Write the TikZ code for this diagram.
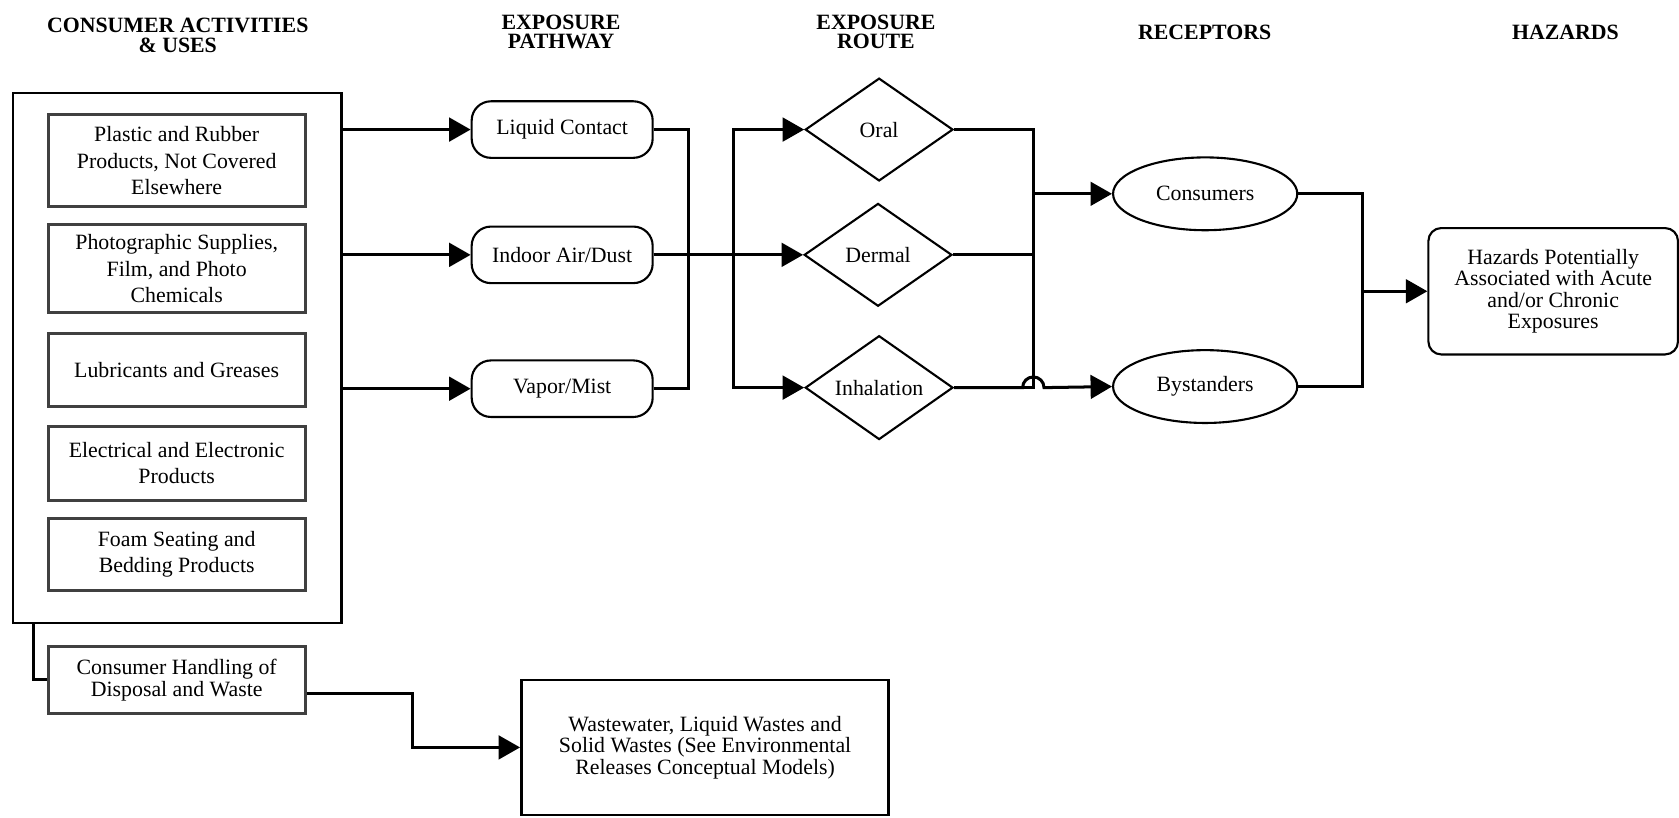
\documentclass[tikz,border=0pt]{standalone}
\usepackage{fontspec}
\setmainfont{Liberation Serif}
\usetikzlibrary{arrows.meta,shapes.geometric}

\tikzset{
  head/.style={font=\fontsize{14.5}{12.8}\selectfont\bfseries, align=center},
  usebox/.style={draw=black!75, line width=2pt, minimum width=6cm, align=center, inner sep=2pt},
  pill/.style={draw, line width=1.4pt, rounded corners=0.45cm, minimum width=4.225cm, minimum height=1.32cm},
  route/.style={draw, diamond, line width=1.4pt, minimum width=3.45cm, minimum height=2.4cm, inner sep=0pt},
  receptor/.style={draw, ellipse, line width=1.4pt, minimum width=4.3cm, minimum height=1.7cm},
  tight/.style={font=\fontsize{14.5}{14.2}\selectfont, align=center},
  flow/.style={line width=2pt},
  arr/.style={flow, -{Triangle[length=0.5cm, width=0.55cm]}},
}

\begin{document}
\begin{tikzpicture}[x=0.025cm, y=-0.025cm, font=\fontsize{14.5}{17.7}\selectfont]
  \useasboundingbox (0,0) rectangle (1568,763);

  % column headings
  \node[head] (hcons) at (166,33) {CONSUMER ACTIVITIES\\\& USES};
  \node[head] (hpath) at (524,30) {EXPOSURE\\PATHWAY};
  \node[head] (hroute) at (818,30) {EXPOSURE\\ROUTE};
  \node[head] (hrec) at (1125,30) {RECEPTORS};
  \node[head] (hhaz) at (1462,30) {HAZARDS};

  % consumer activities and uses
  \node[draw, line width=1.6pt, minimum width=7.675cm, minimum height=12.375cm] (uses) at (165.5,334.5) {};
  \node[usebox, minimum height=2.15cm] (plastic) at (165,150) {Plastic and Rubber\\Products, Not Covered\\Elsewhere};
  \node[usebox, minimum height=2.05cm] (photo) at (165,251) {Photographic Supplies,\\Film, and Photo\\Chemicals};
  \node[usebox, minimum height=1.725cm] (lubric) at (165,345.5) {Lubricants and Greases};
  \node[usebox, minimum height=1.725cm] (elec) at (165,432.5) {Electrical and Electronic\\Products};
  \node[usebox, minimum height=1.675cm] (foam) at (165,517.5) {Foam Seating and\\Bedding Products};
  \node[usebox, tight, minimum height=1.55cm] (handling) at (165,635) {Consumer Handling of\\Disposal and Waste};
  \node[draw, line width=1.8pt, tight, minimum width=8.575cm, minimum height=3.15cm] (waste) at (658.5,698)
    {Wastewater, Liquid Wastes and\\Solid Wastes (See Environmental\\Releases Conceptual Models)};

  % exposure pathways
  \node[pill] (liquid) at (525,121) {Liquid Contact};
  \node[pill] (indoor) at (525,238) {Indoor Air/Dust};
  \node[pill] (vapor) at (525,363) {Vapor/Mist};

  % exposure routes
  \node[route] (oral) at (821,121) {Oral};
  \node[route] (dermal) at (820,238) {Dermal};
  \node[route] (inhal) at (821,362) {Inhalation};

  % receptors and hazards
  \node[receptor] (consumers) at (1125.5,181) {Consumers};
  \node[receptor] (bystand) at (1125.5,361) {Bystanders};
  \node[draw, line width=1.4pt, rounded corners=0.3cm, tight, minimum width=5.825cm, minimum height=2.95cm] (hazards) at (1450.5,272)
    {Hazards Potentially\\Associated with Acute\\and/or Chronic\\Exposures};

  % bus lines
  \coordinate (b1) at (643,0);
  \coordinate (b2) at (685,0);
  \coordinate (b3) at (965,0);
  \coordinate (b4) at (1272,0);
  \coordinate (bw) at (385,0);

  % uses -> pathways
  \draw[arr] (uses.east |- liquid.west) -- (liquid.west);
  \draw[arr] (uses.east |- indoor.west) -- (indoor.west);
  \draw[arr] (uses.east |- vapor.west) -- (vapor.west);
  \draw[flow] ([xshift=0.5cm]uses.south west) |- (handling.west);
  \draw[arr] ([yshift=-9pt]handling.east) -| (bw |- waste.west) -- (waste.west);

  % pathways -> routes
  \draw[flow] (liquid.east) -| (b1 |- dermal.west);
  \draw[flow] (vapor.east) -| (b1 |- dermal.west);
  \draw[arr] (indoor.east) -- (dermal.west);
  \draw[arr] (indoor.east) -| (b2 |- oral.west) -- (oral.west);
  \draw[arr] (indoor.east) -| (b2 |- inhal.west) -- (inhal.west);

  % routes -> receptors
  \draw[flow] (oral.east) -| (b3 |- consumers.west);
  \draw[flow] (dermal.east) -| (b3 |- consumers.west);
  \draw[flow] (inhal.east) -| (b3 |- consumers.west);
  \draw[arr] (b3 |- consumers.west) -- (consumers.west);
  \draw[arr] (inhal.east) -- ([xshift=-0.25cm]b3 |- inhal.east)
    arc[start angle=180, end angle=0, radius=0.25cm] -- (bystand.west);

  % receptors -> hazards
  \draw[flow] (consumers.east) -| (b4 |- hazards.west);
  \draw[flow] (bystand.east) -| (b4 |- hazards.west);
  \draw[arr] (b4 |- hazards.west) -- (hazards.west);
\end{tikzpicture}
\end{document}
